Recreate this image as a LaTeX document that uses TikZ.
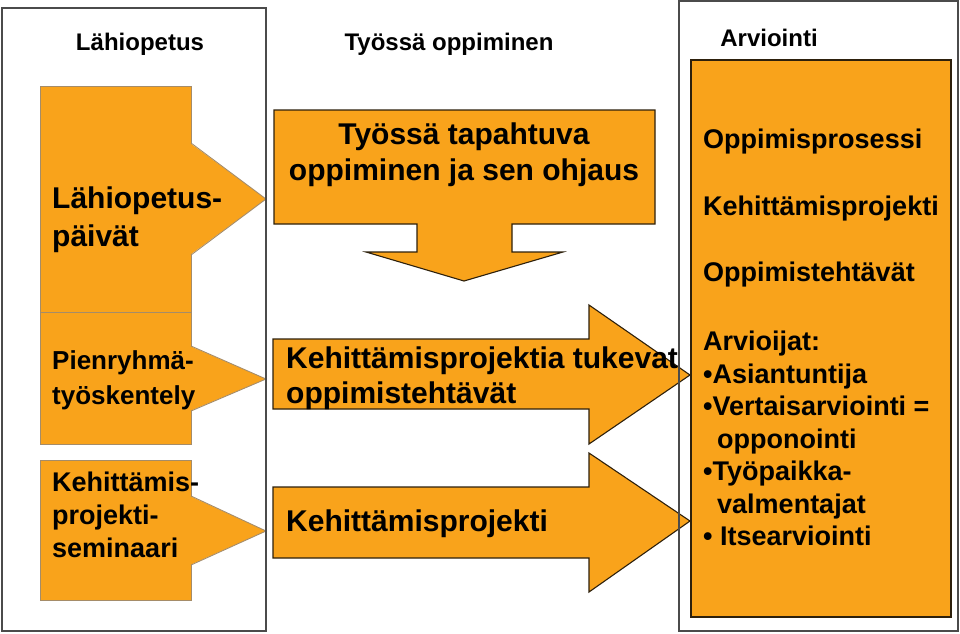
\documentclass[tikz,border=0pt]{standalone}
\usepackage{fontspec}
\setmainfont{Liberation Sans}
\definecolor{boxorange}{RGB}{249,163,27}
\definecolor{edgegray}{RGB}{165,140,105}
\definecolor{arrowedge}{RGB}{45,32,12}
\definecolor{framegray}{RGB}{75,75,75}

\begin{document}
\begin{tikzpicture}[x=1pt,y=-1pt,
  frame box/.style={draw=framegray,line width=1.4pt},
  orange box/.style={fill=boxorange,draw=edgegray,line width=0.9pt},
  big arrow/.style={fill=boxorange,draw=arrowedge,line width=1.1pt,line join=miter},
  title node/.style={inner sep=0pt,font=\fontsize{24}{29}\selectfont\bfseries},
  box text/.style={inner sep=0pt,anchor=west,align=left,font=\bfseries},
  list text/.style={inner sep=0pt,anchor=west,align=left,font=\fontsize{27}{32.5}\selectfont\bfseries}]

  \useasboundingbox (0,0) rectangle (960,633);

  % left panel: Lähiopetus
  \draw[orange box] (40,86) rectangle (191,312);
  \draw[orange box] (40,312) rectangle (191,444);
  \draw[orange box] (40,460) rectangle (191,600);
  \fill[boxorange] (190,143) -- (266,199) -- (190,255) -- cycle;
  \draw[edgegray,line width=0.9pt] (191,143) -- (266,199) -- (191,255);
  \fill[boxorange] (190,346) -- (266,379) -- (190,411) -- cycle;
  \draw[edgegray,line width=0.9pt] (191,346) -- (266,379) -- (191,411);
  \fill[boxorange] (190,496) -- (266,531) -- (190,565) -- cycle;
  \draw[edgegray,line width=0.9pt] (191,496) -- (266,531) -- (191,565);

  % right panel: Arviointi
  \draw[fill=boxorange,draw=arrowedge,line width=1.1pt] (691,60) rectangle (951,617);

  % middle panel: Työssä oppiminen
  \draw[big arrow] (274,110) -- (655,110) -- (655,224) -- (512,224) -- (512,252)
    -- (563,252) -- (464,281) -- (366,252) -- (417,252) -- (417,224) -- (274,224) -- cycle;
  \draw[big arrow] (273,339) -- (589,339) -- (589,305) -- (690,375)
    -- (589,444) -- (589,409) -- (273,409) -- cycle;
  \draw[big arrow] (273,487) -- (589,487) -- (589,453) -- (690,521)
    -- (589,592) -- (589,558) -- (273,558) -- cycle;

  \draw[frame box] (2,8) rectangle (266,631);
  \draw[frame box] (679,1) rectangle (958,631);

  % titles
  \node[title node] (lahi) at (140,44) {Lähiopetus};
  \node[title node] (tyo) at (449,44) {Työssä oppiminen};
  \node[title node] (arv) at (769,38) {Arviointi};

  % texts
  \node[box text,font=\fontsize{30}{38}\selectfont\bfseries] (paivat) at (52,220) {Lähiopetus-\\päivät};
  \node[box text,font=\fontsize{26}{35}\selectfont\bfseries] (pienryhma) at (52,380) {Pienryhmä-\\työskentely};
  \node[box text,font=\fontsize{27}{33}\selectfont\bfseries] (seminaari) at (52,515) {Kehittämis-\\projekti-\\seminaari};

  \node[inner sep=0pt,align=center,font=\fontsize{30}{36}\selectfont\bfseries] (ohjaus) at (464,155) {Työssä tapahtuva\\oppiminen ja sen ohjaus};
  \node[box text,font=\fontsize{30}{35}\selectfont\bfseries] (tukevat) at (286,378) {Kehittämisprojektia tukevat\\oppimistehtävät};
  \node[box text,font=\fontsize{30}{36}\selectfont\bfseries] (projekti) at (286,524) {Kehittämisprojekti};

  \node[list text] (prosessi) at (703,142) {Oppimisprosessi};
  \node[list text] (kehprojekti) at (703,209) {Kehittämisprojekti};
  \node[list text] (tehtavat) at (703,275) {Oppimistehtävät};
  \node[list text] (arvioijat) at (703,438.5) {Arvioijat:\\•Asiantuntija\\•Vertaisarviointi =\\\hspace*{14pt}opponointi\\•Työpaikka-\\\hspace*{14pt}valmentajat\\• Itsearviointi};

\end{tikzpicture}
\end{document}
